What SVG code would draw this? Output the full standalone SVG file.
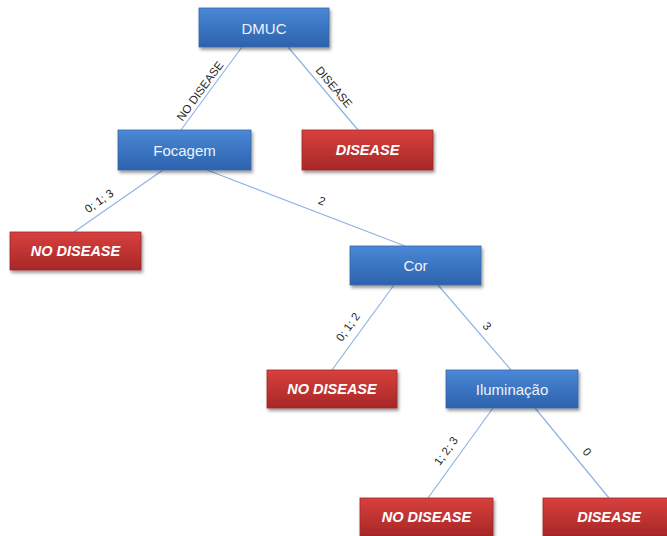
<svg xmlns="http://www.w3.org/2000/svg" width="667" height="536" viewBox="0 0 667 536">
  <defs>
    <linearGradient id="gBlue" x1="0" y1="0" x2="0" y2="1">
      <stop offset="0" stop-color="#4a88d6"/>
      <stop offset="1" stop-color="#2c62ad"/>
    </linearGradient>
    <linearGradient id="gRed" x1="0" y1="0" x2="0" y2="1">
      <stop offset="0" stop-color="#d8403e"/>
      <stop offset="1" stop-color="#a82727"/>
    </linearGradient>
    <filter id="shadow" x="-10%" y="-20%" width="125%" height="160%">
      <feDropShadow dx="1.5" dy="2.5" stdDeviation="1.6" flood-color="#000" flood-opacity="0.4"/>
    </filter>
  </defs>
  <style>
    .edge { stroke: #8fb4e2; stroke-width: 1.2; fill: none; }
    .elabel { font-family: "Liberation Sans", Arial, sans-serif; font-size: 11.5px; fill: #262626; text-anchor: middle; dominant-baseline: central; }
    .blue rect { fill: url(#gBlue); stroke: #3766a8; stroke-width: 0.8; filter: url(#shadow); }
    .red rect { fill: url(#gRed); stroke: #9c2a2a; stroke-width: 0.8; filter: url(#shadow); }
    .blue text { font-family: "Liberation Sans", Arial, sans-serif; font-size: 15px; fill: #eef3fb; text-anchor: middle; dominant-baseline: central; }
    .red text { font-family: "Liberation Sans", Arial, sans-serif; font-size: 14.5px; font-weight: bold; font-style: italic; fill: #fff; text-anchor: middle; dominant-baseline: central; }
  </style>

  <rect width="667" height="536" fill="#fff"/>

  <!-- connectors -->
  <g id="connectors">
    <line class="edge" x1="242" y1="47" x2="181" y2="130"/>
    <line class="edge" x1="288" y1="47" x2="358" y2="130"/>
    <line class="edge" x1="163" y1="170" x2="74" y2="232"/>
    <line class="edge" x1="207" y1="170" x2="405" y2="246"/>
    <line class="edge" x1="394" y1="285" x2="332" y2="370"/>
    <line class="edge" x1="438" y1="285" x2="511" y2="370"/>
    <line class="edge" x1="493" y1="408" x2="428" y2="498"/>
    <line class="edge" x1="535" y1="408" x2="609" y2="498"/>
    <text class="elabel" transform="translate(200,91) rotate(-54)">NO DISEASE</text>
    <text class="elabel" transform="translate(334,87) rotate(50)">DISEASE</text>
    <text class="elabel" transform="translate(99,201) rotate(-35)">0; 1; 3</text>
    <text class="elabel" transform="translate(322,201) rotate(21)">2</text>
    <text class="elabel" transform="translate(348,327) rotate(-54)">0; 1; 2</text>
    <text class="elabel" transform="translate(487,326) rotate(49)">3</text>
    <text class="elabel" transform="translate(446,451) rotate(-54)">1; 2; 3</text>
    <text class="elabel" transform="translate(587,452) rotate(50)">0</text>
  </g>

  <!-- decision nodes -->
  <g id="node-dmuc" class="blue">
    <rect x="199" y="8" width="130" height="39"/>
    <text x="264" y="28">DMUC</text>
  </g>
  <g id="node-focagem" class="blue">
    <rect x="118" y="130" width="133" height="40"/>
    <text x="184.5" y="150">Focagem</text>
  </g>
  <g id="node-cor" class="blue">
    <rect x="350" y="246" width="131" height="39"/>
    <text x="415.5" y="265.5">Cor</text>
  </g>
  <g id="node-iluminacao" class="blue">
    <rect x="446" y="370" width="132" height="38"/>
    <text x="512" y="389">Iluminação</text>
  </g>

  <!-- leaf nodes -->
  <g id="leaf-disease-1" class="red">
    <rect x="302" y="130" width="131" height="40"/>
    <text x="367.5" y="150">DISEASE</text>
  </g>
  <g id="leaf-nodisease-1" class="red">
    <rect x="10" y="232" width="131" height="38"/>
    <text x="75.5" y="251">NO DISEASE</text>
  </g>
  <g id="leaf-nodisease-2" class="red">
    <rect x="267" y="370" width="130" height="38"/>
    <text x="332" y="389">NO DISEASE</text>
  </g>
  <g id="leaf-nodisease-3" class="red">
    <rect x="360" y="498" width="133" height="38"/>
    <text x="426.5" y="517">NO DISEASE</text>
  </g>
  <g id="leaf-disease-2" class="red">
    <rect x="543" y="498" width="133" height="38"/>
    <text x="609" y="517">DISEASE</text>
  </g>
</svg>
